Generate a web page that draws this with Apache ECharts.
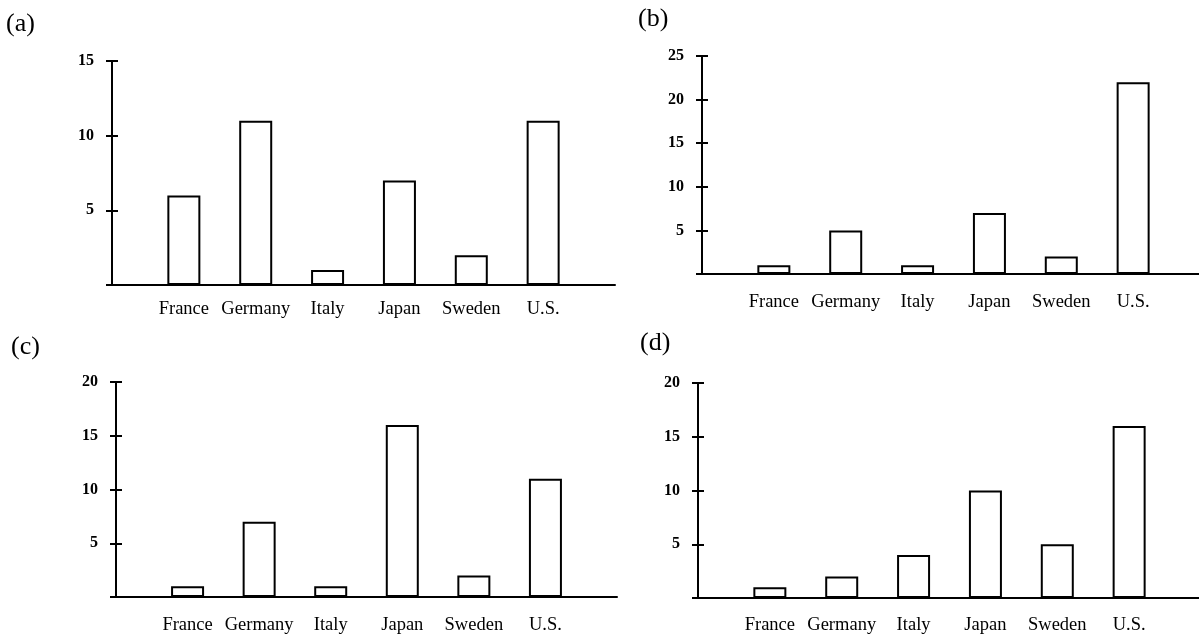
<!DOCTYPE html>
<html>
<head>
<meta charset="utf-8">
<script src="https://cdn.jsdelivr.net/npm/echarts@6/dist/echarts.min.js"></script>
<style>
html,body{margin:0;padding:0;background:#fff;}
#chart{width:1199px;height:634px;}
</style>
</head>
<body>
<div id="chart"></div>
<script>
// ---- data ----
var categories = ['France', 'Germany', 'Italy', 'Japan', 'Sweden', 'U.S.'];
var panelA = [6, 11, 1, 7, 2, 11];
var panelB = [1, 5, 1, 7, 2, 22];
var panelC = [1, 7, 1, 16, 2, 11];
var panelD = [1, 2, 4, 10, 5, 16];
var panelTitles = ['(a)', '(b)', '(c)', '(d)'];
var yMaxes = [15, 25, 20, 20];
var yStep = 5;

var SERIF = '"Liberation Serif", "DejaVu Serif", "Times New Roman", serif';
var panels = [panelA, panelB, panelC, panelD];

// layout (pixels)
var grids = [
  {left: 112, top: 61,  width: 503, height: 224, outerBoundsMode: 'none', containLabel: false},
  {left: 702, top: 56,  width: 503, height: 218, outerBoundsMode: 'none', containLabel: false},
  {left: 116, top: 382, width: 501, height: 215, outerBoundsMode: 'none', containLabel: false},
  {left: 698, top: 383, width: 503, height: 215, outerBoundsMode: 'none', containLabel: false}
];
var xLabelMargins = [15, 19, 19, 18];
var titlePos = [{left: 6, top: 11}, {left: 638, top: 6}, {left: 11, top: 334}, {left: 640, top: 330}];

var axisCats = [''].concat(categories).concat(['']);

var option = {
  backgroundColor: '#fff',
  animation: false,
  title: panelTitles.map(function (t, i) {
    return {
      text: t, left: titlePos[i].left, top: titlePos[i].top, padding: 0,
      textStyle: {fontFamily: SERIF, fontSize: 26, fontWeight: 'normal', color: '#000'}
    };
  }),
  grid: grids,
  xAxis: grids.map(function (g, i) {
    return {
      type: 'category', gridIndex: i, data: axisCats, boundaryGap: false,
      axisLine: {show: true, lineStyle: {color: '#000', width: 2}},
      axisTick: {show: false},
      splitLine: {show: false},
      axisLabel: {
        interval: 0, margin: xLabelMargins[i], color: '#000',
        fontFamily: SERIF, fontSize: 18.5
      }
    };
  }),
  yAxis: [],
  series: []
};

grids.forEach(function (g, i) {
  // main axis: line and labels
  option.yAxis.push({
    type: 'value', gridIndex: i, min: 0, max: yMaxes[i], interval: yStep,
    axisLine: {show: true, lineStyle: {color: '#000', width: 2}},
    axisTick: {show: false},
    splitLine: {show: false},
    axisLabel: {
      margin: 18, color: '#000', fontFamily: SERIF, fontSize: 16, fontWeight: 'bold',
      formatter: function (v) { return v === 0 ? '' : String(v); }
    }
  });
  // overlay axis shifted right so its ticks cross the main axis line
  option.yAxis.push({
    type: 'value', gridIndex: i, position: 'left', offset: -6,
    min: 0, max: yMaxes[i], interval: yStep,
    axisLine: {show: false},
    axisTick: {show: true, inside: false, length: 12, lineStyle: {color: '#000', width: 2}},
    splitLine: {show: false},
    axisLabel: {show: false}
  });
  option.series.push({
    type: 'bar', xAxisIndex: i, yAxisIndex: i * 2,
    data: ['-'].concat(panels[i]).concat(['-']),
    barWidth: 33,
    itemStyle: {color: '#fff', borderColor: '#000', borderWidth: 2}
  });
});

var chart = echarts.init(document.getElementById('chart'), null, {renderer: 'canvas'});
chart.setOption(option);
</script>
</body>
</html>
